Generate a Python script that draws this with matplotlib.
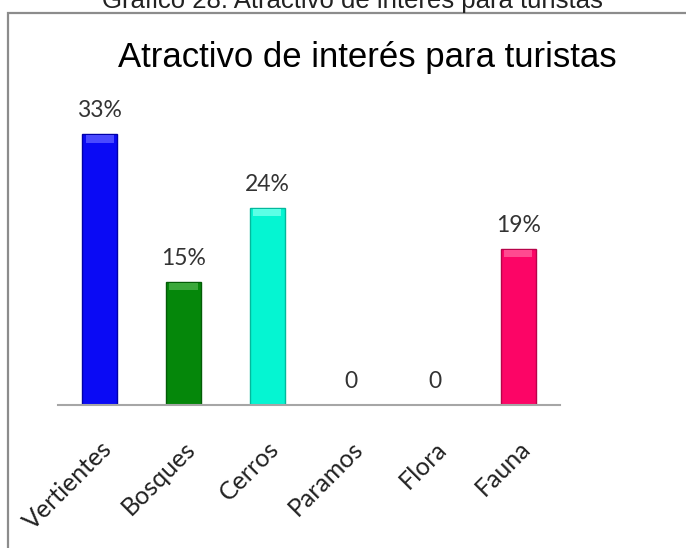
import matplotlib.pyplot as plt
from matplotlib.patches import Rectangle

categorias = ["Vertientes", "Bosques", "Cerros", "Paramos", "Flora", "Fauna"]
valores = [33, 15, 24, 0, 0, 19]
colores = ["#0a0af5", "#05870a", "#05f5d2", "#808080", "#808080", "#fc0566"]
bordes = ["#0000a8", "#035c06", "#03b89c", "#808080", "#808080", "#b8034a"]
brillos = ["#4a4aff", "#3aa83a", "#5cffe6", "#808080", "#808080", "#ff4a90"]

fig = plt.figure(figsize=(6.86, 5.48), dpi=100)

# marco gris del gráfico
fig.patches.append(Rectangle((8 / 686, -0.1), 1.2, 1 - 13 / 548 + 0.1,
                             transform=fig.transFigure, fill=False,
                             edgecolor="#8c8c8c", linewidth=1.6))

fig.text(352 / 686, 1 - 8 / 548, "Gráfico 28: Atractivo de interés para turistas",
         ha="center", va="baseline", fontsize=18.5, family="Liberation Sans",
         color="#222222")
fig.text(367 / 686, 1 - 67 / 548, "Atractivo de interés para turistas",
         ha="center", va="baseline", fontsize=25, family="Liberation Sans")

ax = fig.add_axes([58 / 686, 1 - 405 / 548, 502 / 686, 287 / 548])
x = range(len(categorias))
ax.bar(x, valores, width=0.42, color=colores, edgecolor=bordes, linewidth=1.0)
# pequeño brillo en la parte superior de cada barra
for xi, v, c in zip(x, valores, brillos):
    if v:
        ax.bar(xi, 0.9, bottom=v - 1.0, width=0.34, color=c, linewidth=0)

for xi, v in zip(x, valores):
    etiqueta = f"{v}%" if v else "0"
    ax.text(xi, v + 1.6, etiqueta, ha="center", va="bottom", fontsize=16.5,
            family="Lato", color="#333333")

ax.set_xlim(-0.5, len(categorias) - 0.5)
ax.set_ylim(0, 35)
for s in ["top", "right", "left"]:
    ax.spines[s].set_visible(False)
ax.spines["bottom"].set_color("#a6a6a6")
ax.spines["bottom"].set_linewidth(1.5)
ax.set_yticks([])
ax.set_xticks(list(x))
ax.set_xticklabels(categorias, rotation=45, ha="right", rotation_mode="anchor",
                   fontsize=18, family="Lato", color="#222222")
ax.tick_params(axis="x", length=0, pad=23)
ax.patch.set_alpha(0)

fig.savefig("out.png", dpi=100)
